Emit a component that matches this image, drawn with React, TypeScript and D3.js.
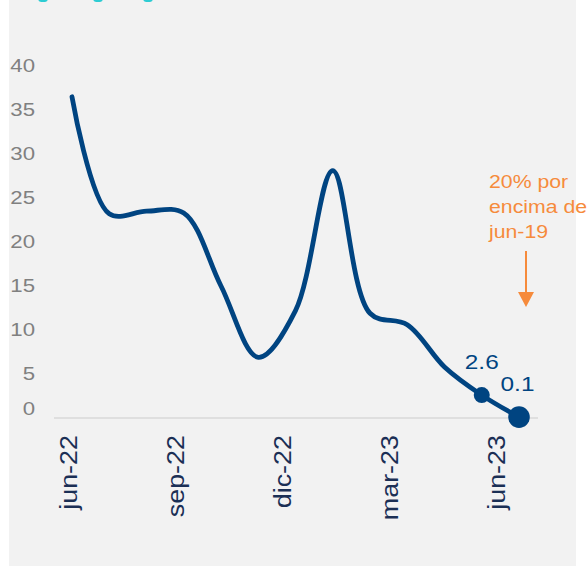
import React from "react";
import * as d3 from "d3";

const months = ["jun-22","jul-22","ago-22","sep-22","oct-22","nov-22","dic-22","ene-23","feb-23","mar-23","abr-23","may-23","jun-23"];
const values = [36.5, 23.2, 23.5, 23.3, 15.0, 6.9, 12.2, 28.1, 11.9, 10.6, 5.8, 2.6, 0.1];
const labelMonths = ["jun-22","sep-22","dic-22","mar-23","jun-23"];
const yTicks = [0, 5, 10, 15, 20, 25, 30, 35, 40];
const markedMonths = ["may-23", "jun-23"];
const annotationLines = ["20% por", "encima de", "jun-19"];

const W = 588, H = 566;
const BLUE = "#004481";
const ORANGE = "#f68b3c";

export default function App() {
  const x = d3.scalePoint<string>().domain(months).range([72, 519]);
  const xLab = d3.scalePoint<string>().domain(months).range([68.5, 497]);
  const y = d3.scaleLinear().domain([0, 40]).range([418, 66]);
  const line = d3.line<number>()
    .x((_, i) => x(months[i])!)
    .y((d) => y(d))
    .curve(d3.curveCatmullRom.alpha(0.5));
  const font = "'Liberation Sans', Arial, sans-serif";
  const jx = x("jun-23")!;
  return (
    <svg width={W} height={H} style={{ position: "absolute", left: 0, top: 0 }}>
      <rect x={0} y={0} width={W} height={H} fill="#ffffff" />
      <rect x={9} y={0} width={567} height={H} fill="#f2f2f2" />
      {[43, 98, 148].map((cx) => (
        <ellipse key={cx} cx={cx} cy={0} rx={4.5} ry={2} fill="#2dccd3" />
      ))}
      {yTicks.map((t) => (
        <text key={t} transform={`translate(35,${t === 0 ? y(t) - 9 : y(t)}) scale(1.2,1)`}
          textAnchor="end" dy="0.35em" fontFamily={font} fontSize={18.5} fill="#808080">{t}</text>
      ))}
      <line x1={54} x2={538} y1={y(0)} y2={y(0)} stroke="#d9d9d9" strokeWidth={1.5} />
      {labelMonths.map((m) => (
        <text key={m} transform={`translate(${xLab(m)! + 8.2},435) rotate(-90) scale(1.17,1)`}
          textAnchor="end" fontFamily={font} fontSize={23} fill="#1b2f55">{m}</text>
      ))}
      <path d={line(values) || ""} fill="none" stroke={BLUE} strokeWidth={4.8} strokeLinecap="round" strokeLinejoin="round" />
      {markedMonths.map((m, k) => {
        const i = months.indexOf(m);
        return (
          <g key={m}>
            <circle cx={x(m)!} cy={y(values[i])} r={k === 0 ? 8 : 10.8} fill={BLUE} />
            <text transform={`translate(${x(m)! - (k === 0 ? 0 : 1.5)},${y(values[i]) - 26}) scale(1.22,1)`}
              textAnchor="middle" fontFamily={font} fontSize={20} fill={BLUE}>{values[i].toFixed(1)}</text>
          </g>
        );
      })}
      {annotationLines.map((s, i) => (
        <text key={s} transform={`translate(489,${188 + i * 25}) scale(1.15,1)`}
          fontFamily={font} fontSize={18.5} fill={ORANGE}>{s}</text>
      ))}
      <line x1={jx + 7} x2={jx + 7} y1={251} y2={294} stroke={ORANGE} strokeWidth={2} />
      <polygon points={`${jx - 1},292 ${jx + 15},292 ${jx + 7},307`} fill={ORANGE} />
    </svg>
  );
}
